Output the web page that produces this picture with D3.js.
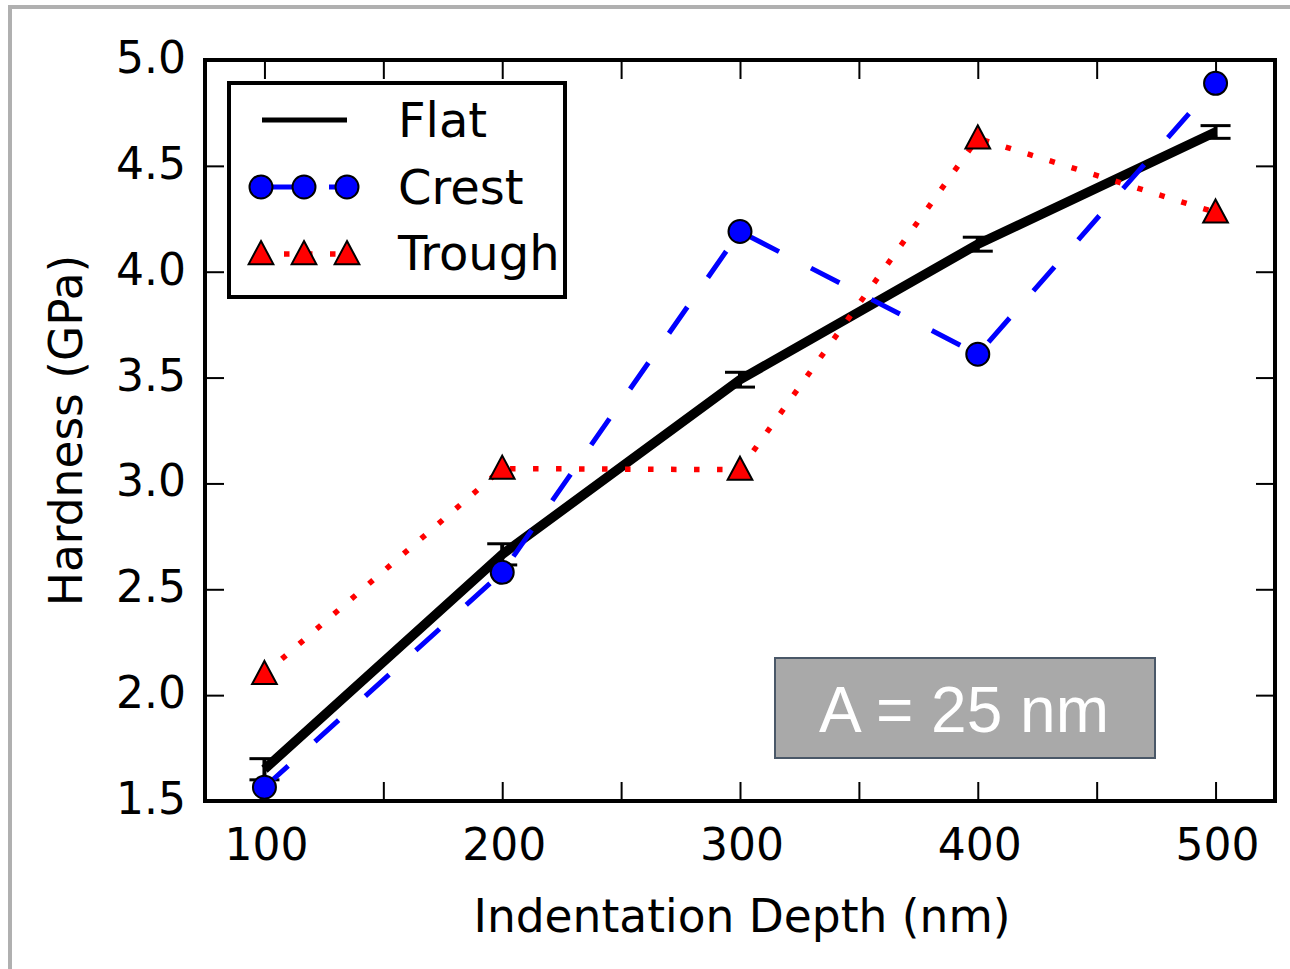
<!DOCTYPE html>
<html>
<head>
<meta charset="utf-8">
<script src="https://cdn.jsdelivr.net/npm/d3@7"></script>
<style>
  html, body { margin: 0; padding: 0; background: #fff; }
  svg { display: block; }
  text { font-family: "DejaVu Sans", sans-serif; }
</style>
</head>
<body>
<svg id="chart" width="1290" height="969"></svg>
<script>
// Indentation depths (nm)
const depths = [100, 200, 300, 400, 500];
// Hardness (GPa) per surface profile
const flatHardness = [1.65, 2.665, 3.49, 4.13, 4.66];
const flatError = [0.05, 0.05, 0.035, 0.033, 0.03];
const crestHardness = [1.565, 2.58, 4.19, 3.61, 4.89];
const troughHardness = [2.1, 3.07, 3.065, 4.63, 4.28];
// Axis ticks
const xTicks = [100, 150, 200, 250, 300, 350, 400, 450, 500];
const xTickLabels = [100, 200, 300, 400, 500];
const yTicks = [1.5, 2.0, 2.5, 3.0, 3.5, 4.0, 4.5, 5.0];

const svg = d3.select("#chart");

// Outer grey frame
svg.append("rect")
  .attr("x", 10).attr("y", 7)
  .attr("width", 1400).attr("height", 1100)
  .attr("fill", "none").attr("stroke", "#b0b0b0").attr("stroke-width", 4);

const L = 205, R = 1275, T = 60, B = 801;
const x = d3.scaleLinear().domain([75, 525]).range([L, R]);
const y = d3.scaleLinear().domain([1.5, 5.0]).range([B, T]);

const tickLen = 19;
const font = 44;

// Inward ticks on all four sides
const axB = d3.axisBottom(x).tickValues(xTicks).tickSizeInner(-tickLen).tickSizeOuter(0).tickFormat("");
const axT = d3.axisTop(x).tickValues(xTicks).tickSizeInner(-tickLen).tickSizeOuter(0).tickFormat("");
const axLft = d3.axisLeft(y).tickValues(yTicks).tickSizeInner(-tickLen).tickSizeOuter(0).tickFormat("");
const axRgt = d3.axisRight(y).tickValues(yTicks).tickSizeInner(-tickLen).tickSizeOuter(0).tickFormat("");

function styleAxis(g) {
  g.select(".domain").remove();
  g.selectAll(".tick line").attr("stroke", "#000").attr("stroke-width", 2);
}
svg.append("g").attr("transform", `translate(0,${B})`).call(axB).call(styleAxis);
svg.append("g").attr("transform", `translate(0,${T})`).call(axT).call(styleAxis);
svg.append("g").attr("transform", `translate(${L},0)`).call(axLft).call(styleAxis);
svg.append("g").attr("transform", `translate(${R},0)`).call(axRgt).call(styleAxis);

// Tick labels
svg.append("g").selectAll("text").data(xTickLabels).join("text")
  .attr("x", d => x(d) + 2).attr("y", 860)
  .attr("text-anchor", "middle").attr("font-size", font).attr("fill", "#000")
  .text(d => d);
svg.append("g").selectAll("text").data(yTicks).join("text")
  .attr("x", 186).attr("y", d => y(d) + 13)
  .attr("text-anchor", "end").attr("font-size", font).attr("fill", "#000")
  .text(d => d.toFixed(1));

// Axis titles
svg.append("text").attr("x", (L + R) / 2 + 2).attr("y", 932)
  .attr("text-anchor", "middle").attr("font-size", 45.5).text("Indentation Depth (nm)");
svg.append("text").attr("transform", `translate(82,${(T + B) / 2}) rotate(-90)`)
  .attr("text-anchor", "middle").attr("font-size", 45.5).text("Hardness (GPa)");

const plot = svg.append("g");

const line = d3.line().x(d => x(d[0])).y(d => y(d[1]));
const flatPts = depths.map((d, i) => [d, flatHardness[i]]);
const crestPts = depths.map((d, i) => [d, crestHardness[i]]);
const troughPts = depths.map((d, i) => [d, troughHardness[i]]);

// Flat: solid thick line with error bars
plot.append("path").datum(flatPts).attr("d", line)
  .attr("fill", "none").attr("stroke", "#000").attr("stroke-width", 9.5)
  .attr("stroke-linejoin", "miter");

const eb = plot.append("g");
depths.forEach((d, i) => {
  const cx = x(d), y1 = y(flatHardness[i] + flatError[i]), y0 = y(flatHardness[i] - flatError[i]);
  eb.append("line").attr("x1", cx).attr("x2", cx).attr("y1", y1).attr("y2", y0)
    .attr("stroke", "#000").attr("stroke-width", 4);
  [y1, y0].forEach(yy => eb.append("line")
    .attr("x1", cx - 15).attr("x2", cx + 15).attr("y1", yy).attr("y2", yy)
    .attr("stroke", "#000").attr("stroke-width", 3));
});

// Crest: dashed blue with circle markers
const crestDash = "32,36";
plot.append("path").datum(crestPts).attr("d", line)
  .attr("fill", "none").attr("stroke", "#0000ff").attr("stroke-width", 5)
  .attr("stroke-dasharray", crestDash);
plot.append("g").selectAll("circle").data(crestPts).join("circle")
  .attr("cx", d => x(d[0])).attr("cy", d => y(d[1])).attr("r", 11.5)
  .attr("fill", "#0000ff").attr("stroke", "#000").attr("stroke-width", 2);

// Trough: dotted red with triangle markers
const troughDash = "5.5,17.5";
plot.append("path").datum(troughPts).attr("d", line)
  .attr("fill", "none").attr("stroke", "#ff0000").attr("stroke-width", 5.5)
  .attr("stroke-dasharray", troughDash);
const tri = (cx, cy, s) => `M${cx},${cy - s}L${cx + s * 0.95},${cy + s * 0.78}L${cx - s * 0.95},${cy + s * 0.78}Z`;
plot.append("g").selectAll("path").data(troughPts).join("path")
  .attr("d", d => tri(x(d[0]), y(d[1]), 13))
  .attr("fill", "#ff0000").attr("stroke", "#000").attr("stroke-width", 2)
  .attr("stroke-linejoin", "miter");

// Plot frame
svg.append("rect").attr("x", L).attr("y", T).attr("width", R - L).attr("height", B - T)
  .attr("fill", "none").attr("stroke", "#000").attr("stroke-width", 4);

// Legend
const lg = svg.append("g");
lg.append("rect").attr("x", 229).attr("y", 83).attr("width", 336).attr("height", 214)
  .attr("fill", "#fff").attr("stroke", "#000").attr("stroke-width", 4);
const lx = [261, 304, 347];
lg.append("line").attr("x1", 262).attr("x2", 347).attr("y1", 120).attr("y2", 120)
  .attr("stroke", "#000").attr("stroke-width", 5);
lg.append("line").attr("x1", 261).attr("x2", 347).attr("y1", 187).attr("y2", 187)
  .attr("stroke", "#0000ff").attr("stroke-width", 5).attr("stroke-dasharray", crestDash);
lx.forEach(cx => lg.append("circle").attr("cx", cx).attr("cy", 187).attr("r", 11.5)
  .attr("fill", "#0000ff").attr("stroke", "#000").attr("stroke-width", 2));
lg.append("line").attr("x1", 261).attr("x2", 347).attr("y1", 254).attr("y2", 254)
  .attr("stroke", "#ff0000").attr("stroke-width", 5.5).attr("stroke-dasharray", troughDash);
lx.forEach(cx => lg.append("path").attr("d", tri(cx, 254, 13))
  .attr("fill", "#ff0000").attr("stroke", "#000").attr("stroke-width", 2));
const legendNames = ["Flat", "Crest", "Trough"];
lg.selectAll("text.name").data(legendNames).join("text")
  .attr("x", 398).attr("y", (d, i) => 137 + i * 66.5)
  .attr("font-size", 48).text(d => d);

// Amplitude annotation
svg.append("rect").attr("x", 775).attr("y", 658).attr("width", 380).attr("height", 100)
  .attr("fill", "#a9a9a9").attr("stroke", "#4a5868").attr("stroke-width", 2);
svg.append("text").attr("x", 964).attr("y", 732)
  .attr("text-anchor", "middle").attr("font-size", 64).attr("fill", "#fff")
  .style("font-family", "'Liberation Sans', Arial, sans-serif")
  .text("A = 25 nm");
</script>
</body>
</html>
